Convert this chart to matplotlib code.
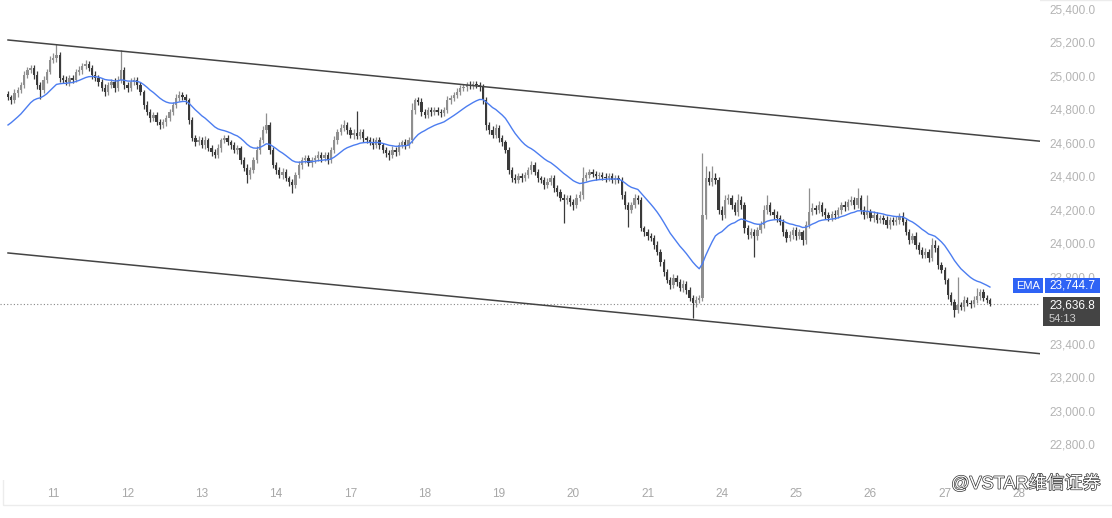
import matplotlib
matplotlib.use('Agg')
import matplotlib.pyplot as plt
import matplotlib.transforms as mtransforms
import matplotlib.patheffects as pe
from matplotlib.patches import Rectangle
import numpy as np

# hourly closes
closes = [
    24874, 24856, 24898, 24916, 24946, 25006, 25036, 25048, 25006, 24946,
    24916, 24976, 25024, 25095, 25107, 25125, 24988, 24976, 24964, 24988,
    24976, 25024, 25036, 25060, 25071, 25048, 25006, 24988, 24964, 24928,
    24904, 24946, 24964, 24928, 24976, 25036, 24946, 24928, 24964, 24976,
    24946, 24904, 24826, 24785, 24749, 24767, 24725, 24707, 24725, 24749,
    24785, 24826, 24868, 24886, 24874, 24856, 24737, 24629, 24605, 24617,
    24587, 24617, 24569, 24546, 24528, 24569, 24617, 24629, 24605, 24587,
    24557, 24569, 24498, 24450, 24408, 24438, 24498, 24557, 24617, 24677,
    24707, 24557, 24468, 24438, 24408, 24426, 24390, 24366, 24348, 24408,
    24468, 24498, 24510, 24480, 24498, 24510, 24528, 24510, 24528, 24498,
    24557, 24617, 24665, 24689, 24707, 24677, 24647, 24659, 24641, 24665,
    24629, 24617, 24605, 24587, 24617, 24587, 24557, 24540, 24528, 24557,
    24546, 24587, 24605, 24587, 24617, 24797, 24856, 24844, 24785, 24767,
    24797, 24785, 24797, 24785, 24779, 24797, 24856, 24868, 24886, 24904,
    24928, 24934, 24946, 24940, 24952, 24946, 24934, 24856, 24707, 24677,
    24647, 24689, 24629, 24605, 24557, 24438, 24390, 24378, 24402, 24390,
    24408, 24438, 24468, 24426, 24390, 24378, 24348, 24366, 24390, 24330,
    24306, 24271, 24259, 24271, 24247, 24229, 24271, 24288, 24390, 24408,
    24426, 24414, 24402, 24408, 24396, 24390, 24402, 24378, 24390, 24378,
    24288, 24229, 24199, 24229, 24271, 24259, 24091, 24067, 24043, 24031,
    23990, 23948, 23888, 23828, 23780, 23751, 23792, 23768, 23733, 23757,
    23721, 23673, 23643, 23661, 23673, 24169, 24390, 24366, 24390, 24378,
    24199, 24169, 24259, 24271, 24229, 24187, 24259, 24229, 24091, 24049,
    24067, 24043, 24079, 24109, 24199, 24229, 24187, 24169, 24151, 24127,
    24067, 24031, 24049, 24079, 24043, 24067, 24019, 24109, 24187, 24211,
    24199, 24229, 24187, 24169, 24151, 24175, 24169, 24199, 24229, 24217,
    24247, 24259, 24229, 24271, 24199, 24169, 24187, 24151, 24169, 24139,
    24151, 24139, 24109, 24139, 24127, 24139, 24163, 24127, 24067, 24019,
    24043, 23990, 23960, 23930, 23948, 23912, 23990, 23972, 23870, 23840,
    23780, 23691, 23649, 23601, 23631, 23619, 23661, 23643, 23637, 23661,
    23685, 23709, 23673, 23661, 23636.8,
]
first_open = 24890

upper_wick = [
    20, 15, 25, 18, 20, 22, 15, 20, 18, 25,
    20, 25, 18, 22, 30, 65, 20, 18, 25, 15,
    20, 18, 22, 15, 25, 20, 18, 22, 15, 20,
    25, 18, 20, 22, 25, 120, 20, 18, 25, 15,
    20, 18, 15, 22, 18, 20, 15, 18, 20, 15,
    18, 20, 22, 25, 18, 20, 15, 20, 18, 22,
    20, 25, 15, 18, 20, 22, 15, 18, 20, 15,
    18, 20, 15, 18, 22, 20, 18, 25, 20, 22,
    72, 20, 18, 15, 20, 22, 18, 15, 20, 18,
    22, 18, 20, 15, 18, 20, 22, 18, 15, 20,
    18, 22, 20, 25, 30, 18, 20, 22, 132, 20,
    18, 15, 20, 22, 18, 20, 15, 18, 20, 22,
    18, 20, 15, 18, 20, 40, 15, 20, 25, 18,
    15, 20, 18, 15, 20, 18, 22, 20, 18, 22,
    20, 15, 18, 22, 15, 18, 20, 15, 20, 18,
    22, 25, 18, 20, 15, 18, 20, 22, 18, 20,
    18, 20, 25, 18, 20, 15, 18, 22, 20, 18,
    20, 18, 22, 15, 18, 20, 22, 25, 66, 20,
    18, 20, 15, 18, 20, 22, 18, 15, 20, 18,
    20, 22, 18, 20, 25, 18, 20, 15, 18, 20,
    18, 22, 20, 15, 18, 20, 25, 18, 20, 22,
    18, 20, 15, 22, 20, 371, 70, 40, 70, 30,
    20, 25, 30, 25, 20, 18, 35, 22, 18, 20,
    22, 18, 20, 25, 30, 60, 18, 20, 22, 18,
    20, 18, 22, 20, 18, 20, 15, 25, 143, 30,
    20, 22, 18, 25, 20, 18, 22, 20, 18, 25,
    20, 22, 18, 59, 20, 25, 100, 18, 22, 20,
    18, 20, 22, 18, 20, 25, 18, 22, 20, 18,
    20, 22, 18, 20, 25, 18, 40, 30, 20, 18,
    20, 15, 18, 20, 167, 20, 25, 18, 20, 22,
    48, 20, 18, 15, 10,
]

lower_wick = [
    20, 25, 18, 22, 20, 15, 18, 20, 25, 22,
    55, 20, 18, 15, 20, 22, 25, 20, 18, 22,
    18, 15, 20, 22, 18, 20, 25, 18, 22, 20,
    25, 20, 18, 22, 20, 18, 25, 22, 18, 20,
    22, 20, 25, 18, 22, 20, 18, 25, 20, 22,
    18, 20, 15, 18, 20, 22, 25, 20, 22, 18,
    20, 22, 18, 25, 20, 18, 22, 20, 18, 22,
    20, 22, 25, 20, 48, 22, 20, 18, 22, 20,
    18, 22, 20, 25, 18, 22, 20, 25, 48, 20,
    18, 22, 20, 18, 25, 20, 18, 22, 20, 25,
    20, 18, 22, 20, 18, 25, 20, 22, 18, 20,
    22, 20, 18, 25, 20, 22, 20, 25, 30, 20,
    22, 18, 20, 25, 20, 18, 22, 20, 25, 20,
    18, 22, 20, 18, 25, 20, 18, 22, 20, 18,
    20, 18, 22, 20, 18, 20, 22, 25, 30, 22,
    20, 18, 25, 22, 20, 25, 22, 20, 18, 22,
    20, 18, 22, 20, 25, 18, 22, 20, 18, 25,
    22, 20, 138, 22, 25, 30, 20, 18, 22, 20,
    18, 20, 22, 18, 20, 22, 18, 20, 22, 18,
    22, 25, 100, 20, 18, 22, 20, 25, 22, 20,
    22, 20, 25, 22, 20, 25, 18, 22, 20, 25,
    22, 20, 90, 25, 20, 18, 22, 20, 25, 22,
    25, 30, 20, 22, 25, 20, 22, 25, 30, 22,
    20, 125, 22, 20, 18, 22, 20, 25, 22, 20,
    25, 22, 20, 25, 22, 20, 30, 22, 20, 18,
    22, 20, 25, 22, 20, 18, 22, 20, 25, 22,
    20, 18, 22, 20, 25, 22, 20, 18, 22, 20,
    18, 22, 20, 25, 18, 20, 22, 20, 18, 22,
    20, 25, 22, 20, 18, 22, 20, 25, 22, 20,
    25, 22, 20, 41, 20, 18, 22, 20, 25, 18,
    20, 22, 18, 20, 10,
]

day_labels = ['11', '12', '13', '14', '17', '18', '19', '20', '21', '24', '25', '26', '27', '28']
bars_before_first_day = 14
bars_per_day = 23

ema_seed = 24707
ema_span = 20
ema_last = 23744.7
last_price = 23636.8
countdown = '54:13'

# channel: price at first bar and at right edge
upper_channel = [25215, 24610]
lower_channel = [23942, 23340]

# 23,600 sits under the last-price badge, so it is not shown
price_ticks = [v for v in range(22800, 25401, 200) if v != 23600]

# ---------------------------------------------------------------
n = len(closes)
idx = np.arange(n)
c = np.array(closes, dtype=float)
o = np.array([first_open] + closes[:-1], dtype=float)
hi = np.maximum(o, c) + np.array(upper_wick)
lo = np.minimum(o, c) - np.array(lower_wick)

alpha = 2 / (ema_span + 1)
ema = [ema_seed]
for v in c[1:]:
    ema.append(alpha * v + (1 - alpha) * ema[-1])

x_left, x_right = -2.48, 319.5
y_bottom, y_top = 22585, 25454

fig = plt.figure(figsize=(11.12, 5.18), dpi=100)
fig.patch.set_facecolor('white')
ax = fig.add_axes([0, 38 / 518, 1040 / 1112, 480 / 518])
ax.set_xlim(x_left, x_right)
ax.set_ylim(y_bottom, y_top)

up = c >= o
col_up, col_dn = '#8f8f8f', '#3a3a3a'
colors = np.where(up, col_up, col_dn)
ax.vlines(idx, lo, hi, colors=colors, lw=0.9, zorder=2)
body = np.maximum(np.abs(c - o), 5)
ax.bar(idx, body, bottom=np.minimum(o, c), width=0.72, color=colors, linewidth=0, zorder=3)

ax.plot(idx, ema, color='#4c7df0', lw=1.0, zorder=4)

ax.plot([0, x_right], upper_channel, color='#444444', lw=1.1, zorder=5)
ax.plot([0, x_right], lower_channel, color='#444444', lw=1.1, zorder=5)

ax.axhline(last_price, color='#888888', lw=0.8, ls=(0, (1, 2)), zorder=1)

for s in ax.spines.values():
    s.set_visible(False)
ax.yaxis.tick_right()
ax.set_yticks(price_ticks)
ax.set_yticklabels([f'{v:,.1f}' for v in price_ticks])
ax.tick_params(axis='y', length=0, pad=7, labelsize=8.5, labelcolor='#b4b4b4')
ax.set_xticks([bars_before_first_day + bars_per_day * k for k in range(len(day_labels))])
ax.set_xticklabels(day_labels)
ax.tick_params(axis='x', length=0, pad=6, labelsize=8.5, labelcolor='#a8a8a8')
for t in ax.get_xticklabels() + ax.get_yticklabels():
    t.set_fontfamily('Liberation Sans')

# right-side price badges
tr = mtransforms.blended_transform_factory(fig.transFigure, ax.transData)
u = (y_top - y_bottom) / 480  # price units per pixel
W = 1112
fig.add_artist(Rectangle((1013 / W, ema_last - 7.5 * u), 30 / W, 15 * u, transform=tr,
                         facecolor='#2e63f5', edgecolor='none', zorder=10))
fig.add_artist(Rectangle((1045 / W, ema_last - 7.5 * u), 55 / W, 15 * u, transform=tr,
                         facecolor='#2e63f5', edgecolor='none', zorder=10))
fig.text(1028 / W, ema_last, 'EMA', transform=tr, ha='center', va='center',
         color='white', fontsize=8, family='Liberation Sans', zorder=11)
fig.text(1049 / W, ema_last, f'{ema_last:,.1f}', transform=tr, ha='left', va='center',
         color='white', fontsize=8.5, family='Liberation Sans', zorder=11)

fig.add_artist(Rectangle((1043 / W, last_price - 22 * u), 57 / W, 29 * u, transform=tr,
                         facecolor='#444444', edgecolor='none', zorder=10))
fig.text(1049 / W, last_price - 1.5 * u, f'{last_price:,.1f}', transform=tr, ha='left', va='center',
         color='white', fontsize=8.5, family='Liberation Sans', zorder=11)
fig.text(1049 / W, last_price - 14.5 * u, countdown, transform=tr, ha='left', va='center',
         color='#cfcfcf', fontsize=8, family='Liberation Sans', zorder=11)

# faint frame
fig.add_artist(Rectangle((3 / W, 13 / 518), 1.0, 505 / 518, transform=fig.transFigure,
                         facecolor='none', edgecolor='#ececec', lw=1.0, zorder=0))

# watermark
fig.text(1100 / W, 1 - 484 / 518, '@VSTAR维信证券', ha='right', va='center', fontsize=13,
         color='white', family=['Liberation Sans', 'Noto Sans CJK SC'], zorder=12,
         path_effects=[pe.withStroke(linewidth=1.0, foreground='#333333')])

fig.savefig('out.png', dpi=100, facecolor='white')
